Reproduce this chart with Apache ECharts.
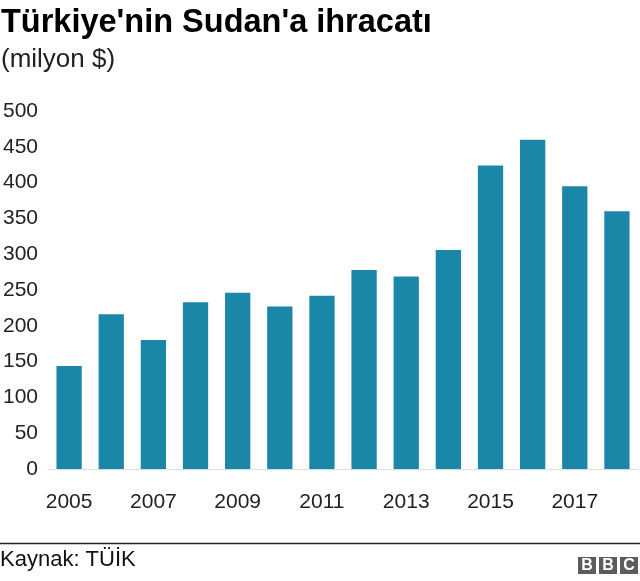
<!DOCTYPE html>
<html>
<head>
<meta charset="utf-8">
<script src="https://cdn.jsdelivr.net/npm/echarts@6/dist/echarts.min.js"></script>
<style>
html,body{margin:0;padding:0;background:#fff;}
#c{width:640px;height:581px;}
</style>
</head>
<body>
<div id="c"></div>
<script>
const titleText = "Türkiye'nin Sudan'a ihracatı";
const subtitleText = "(milyon $)";
const sourceText = "Kaynak: TÜİK";
const years = ["2005","2006","2007","2008","2009","2010","2011","2012","2013","2014","2015","2016","2017","2018"];
const exports = [144, 216, 180, 233, 246, 227, 242, 278, 269, 306, 424, 460, 395, 360];
const yTicks = [0, 500, 50];

const FONT = "'Liberation Sans', Arial, Helvetica, sans-serif";
const chart = echarts.init(document.getElementById('c'), null, {renderer:'canvas'});
const logoLetters = ["B","B","C"];
const logo = [];
logoLetters.forEach((ch, i) => {
  const x = 578 + i * 21;
  logo.push({type:'rect', shape:{x:x, y:557, width:18, height:17}, style:{fill:'#5c5c5c'}});
  logo.push({type:'text', x:x+9, y:566, style:{text:ch, fill:'#fff', font:"bold 16px " + FONT, textAlign:'center', textVerticalAlign:'middle'}});
});
chart.setOption({
  animation:false,
  backgroundColor:'#fff',
  title:[
    {text:titleText, left:-4, top:2, textStyle:{fontFamily:FONT, fontWeight:'bold', fontSize:32.5, color:'#000'}},
    {text:subtitleText, left:-4, top:42, textStyle:{fontFamily:FONT, fontWeight:'normal', fontSize:26, color:'#222'}}
  ],
  grid:{left:48, right:2, top:111, bottom:112},
  xAxis:{
    type:'category', data:years,
    axisLine:{show:true, lineStyle:{color:'#dddddd', width:1}},
    axisTick:{show:false},
    axisLabel:{interval:1, color:'#222', fontFamily:FONT, fontSize:21, margin:23}
  },
  yAxis:{
    type:'value', min:yTicks[0], max:yTicks[1], interval:yTicks[2],
    axisLine:{show:false}, axisTick:{show:false},
    splitLine:{show:false},
    axisLabel:{color:'#222', fontFamily:FONT, fontSize:21, margin:10}
  },
  series:[{
    type:'bar', data:exports, barCategoryGap:'40%',
    itemStyle:{color:'#1a87a8'}
  }],
  graphic:[
    {type:'line', shape:{x1:0, y1:543.5, x2:640, y2:543.5}, style:{stroke:'#222', lineWidth:1.5}},
    {type:'text', left:0, top:549, style:{text:sourceText, fill:'#111', font:"22px " + FONT}}
  ].concat(logo)
});
</script>
</body>
</html>
